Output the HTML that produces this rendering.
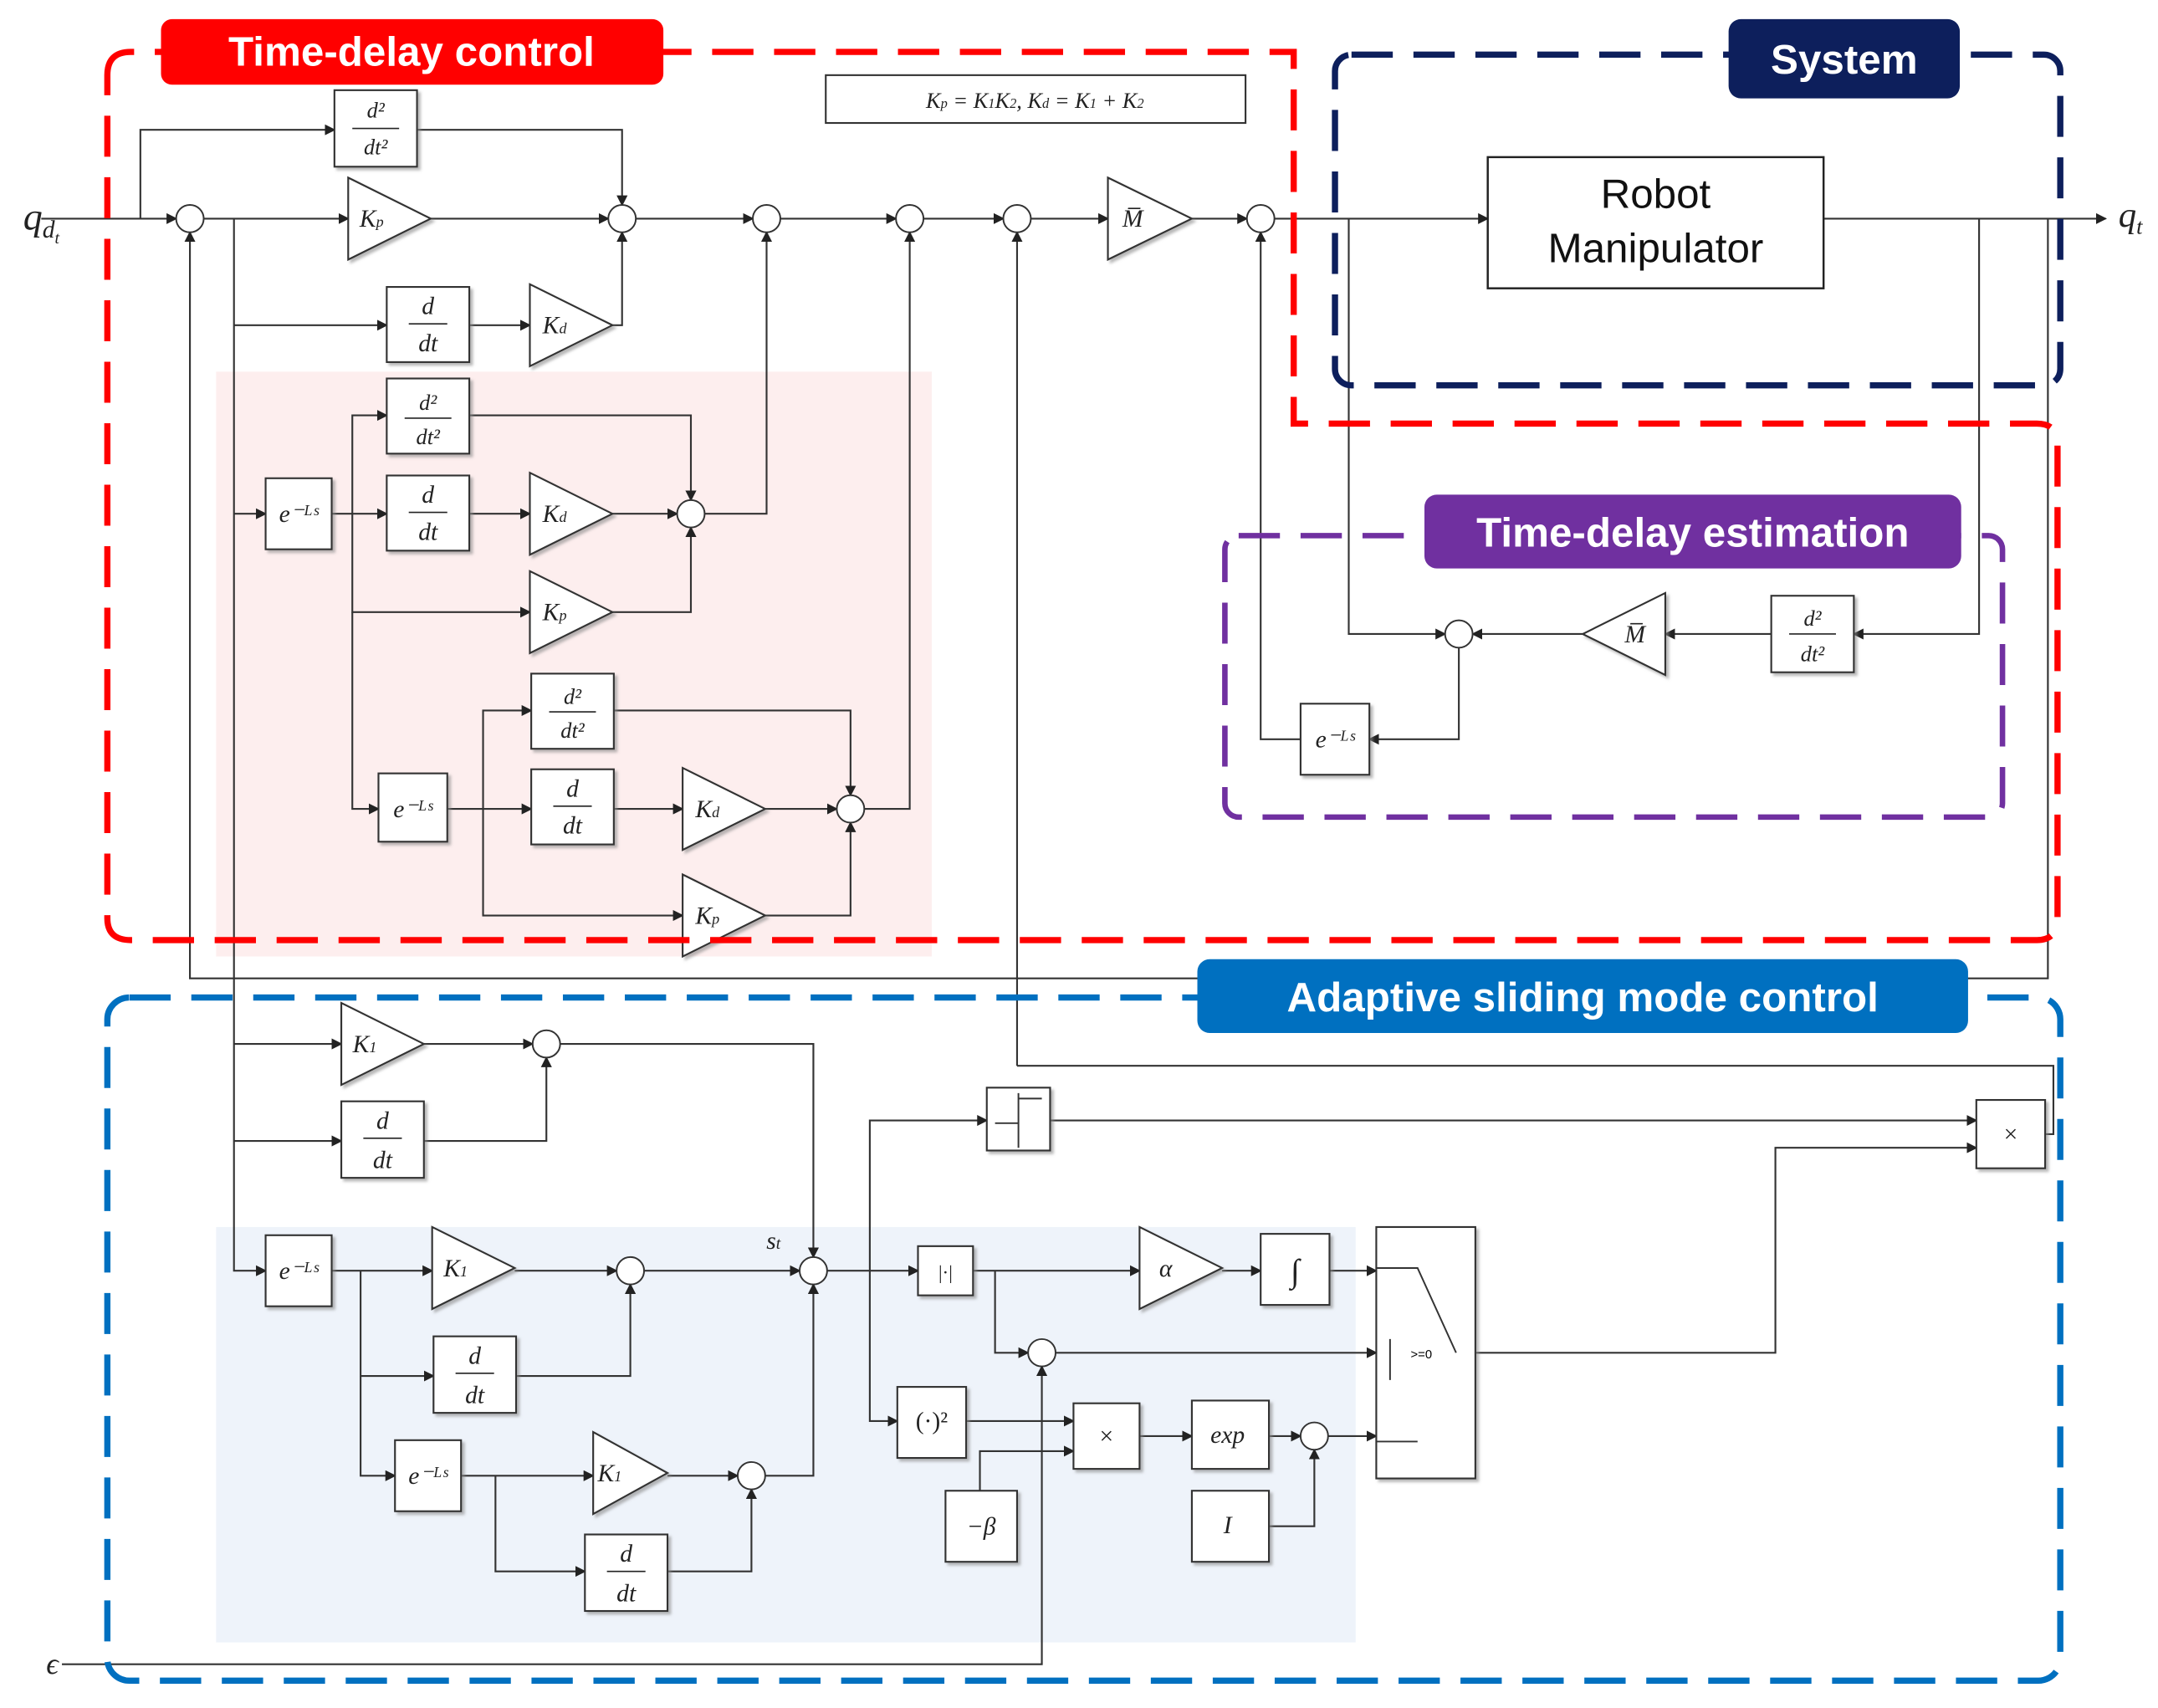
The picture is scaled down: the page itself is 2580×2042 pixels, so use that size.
<!DOCTYPE html>
<html><head><meta charset="utf-8"><style>
html,body{margin:0;padding:0;background:#fff;}
svg{display:block;}
text{font-family:"Liberation Serif",serif;}
.lb{font-family:"Liberation Sans","DejaVu Sans",sans-serif;font-weight:bold;fill:#fff;font-size:30px;text-anchor:middle;}
.m{font-style:italic;font-size:18px;text-anchor:middle;fill:#222;}
.b{fill:#fff;stroke:#333;stroke-width:1.3;filter:url(#sh);}
.w{fill:none;stroke:#333;stroke-width:1.3;}
.s{fill:#fff;stroke:#333;stroke-width:1.2;}
.sans{font-family:"Liberation Sans","DejaVu Sans",sans-serif;}
</style></head><body>
<svg width="2580" height="2042" viewBox="0 0 1568 1250" preserveAspectRatio="none" xmlns="http://www.w3.org/2000/svg">
<defs>
<filter id="sh" x="-10%" y="-10%" width="130%" height="130%"><feDropShadow dx="2" dy="2" stdDeviation="1" flood-color="#888" flood-opacity="0.6"/></filter>
<marker id="a" markerWidth="8" markerHeight="8" refX="7" refY="4" orient="auto" markerUnits="userSpaceOnUse"><path d="M0,0 L8,4 L0,8z" fill="#222"/></marker>
</defs>
<rect x="157" y="272" width="520" height="428" fill="#fdeeee"/>
<rect x="157" y="898" width="828" height="304" fill="#eef3fa"/>

<g class="w" marker-end="url(#a)">
<path d="M30,160 H128"/>
<path d="M102,160 V95 H243"/>
<path d="M303,95 H452 V150"/>
<path d="M148,160 H253"/>
<path d="M313,160 H442"/>
<path d="M462,160 H547"/>
<path d="M567,160 H651"/>
<path d="M671,160 H729"/>
<path d="M749,160 H805"/>
<path d="M866,160 H906"/>
<path d="M926,160 H1081"/>
<path d="M1325,160 H1530"/>
<path d="M170,238 H281"/>
<path d="M341,238 H385"/>
<path d="M445,238 H452 V170"/>
<path d="M170,376 H193"/>
<path d="M241,376 H281"/>
<path d="M341,376 H385"/>
<path d="M256,376 V304 H281"/>
<path d="M341,304 H502 V366"/>
<path d="M445,376 H492"/>
<path d="M256,376 V448 H385"/>
<path d="M445,448 H502 V386"/>
<path d="M512,376 H557 V170"/>
<path d="M256,448 V592 H275"/>
<path d="M325,592 H386"/>
<path d="M351,592 V520 H386"/>
<path d="M446,520 H618 V582"/>
<path d="M446,592 H496"/>
<path d="M556,592 H608"/>
<path d="M351,592 V670 H496"/>
<path d="M556,670 H618 V602"/>
<path d="M628,592 H661 V170"/>
<path d="M1438,160 V464 H1347"/>
<path d="M1287,464 H1210"/>
<path d="M1150,464 H1070"/>
<path d="M980,160 V464 H1050"/>
<path d="M1060,474 V541 H995"/>
<path d="M945,541 H916 V170"/>
<path d="M1488,160 V716 H138 V170"/>
<path d="M170,160 V930 H193"/>
<path d="M170,764 H248"/>
<path d="M308,764 H387"/>
<path d="M170,835 H248"/>
<path d="M308,835 H397 V774"/>
<path d="M407,764 H591 V920"/>
<path d="M241,930 H314"/>
<path d="M374,930 H448"/>
<path d="M262,930 V1007 H315"/>
<path d="M375,1007 H458 V940"/>
<path d="M468,930 H581"/>
<path d="M262,1007 V1080 H287"/>
<path d="M335,1080 H431"/>
<path d="M485,1080 H536"/>
<path d="M360,1080 V1150 H425"/>
<path d="M485,1150 H546 V1090"/>
<path d="M556,1080 H591 V940"/>
<path d="M601,930 H667"/>
<path d="M632,930 V820 H717"/>
<path d="M763,820 H1436"/>
<path d="M707,930 H828"/>
<path d="M888,930 H916"/>
<path d="M966,930 H1000"/>
<path d="M723,930 V990 H747"/>
<path d="M767,990 H1000"/>
<path d="M632,930 V1040 H652"/>
<path d="M702,1040 H780"/>
<path d="M712,1091 V1062 H780"/>
<path d="M828,1051 H866"/>
<path d="M922,1051 H945"/>
<path d="M965,1051 H1000"/>
<path d="M922,1117 H955 V1061"/>
<path d="M1060,990 H1290 V840 H1436"/>
<path d="M739,780 V170"/>
<path d="M45,1218 H757 V1000"/>
</g>
<path class="w" d="M1486,830 H1492 V780 H739"/>

<g>
<rect class="b" x="243" y="66" width="60" height="56"/>
<rect class="b" x="281" y="210" width="60" height="55"/>
<rect class="b" x="281" y="277" width="60" height="55"/>
<rect class="b" x="281" y="348" width="60" height="55"/>
<rect class="b" x="193" y="350" width="48" height="52"/>
<rect class="b" x="275" y="566" width="50" height="50"/>
<rect class="b" x="386" y="493" width="60" height="55"/>
<rect class="b" x="386" y="563" width="60" height="55"/>
<rect class="b" x="1287" y="436" width="60" height="56"/>
<rect class="b" x="945" y="515" width="50" height="52"/>
<rect class="b" x="248" y="806" width="60" height="56"/>
<rect class="b" x="193" y="904" width="48" height="52"/>
<rect class="b" x="315" y="978" width="60" height="56"/>
<rect class="b" x="287" y="1054" width="48" height="52"/>
<rect class="b" x="425" y="1123" width="60" height="56"/>
<rect class="b" x="667" y="912" width="40" height="36"/>
<rect class="b" x="717" y="796" width="46" height="46"/>
<rect class="b" x="916" y="903" width="50" height="52"/>
<rect class="b" x="652" y="1015" width="50" height="52"/>
<rect class="b" x="780" y="1027" width="48" height="48"/>
<rect class="b" x="687" y="1091" width="52" height="52"/>
<rect class="b" x="866" y="1025" width="56" height="50"/>
<rect class="b" x="866" y="1091" width="56" height="52"/>
<rect class="b" x="1000" y="898" width="72" height="184"/>
<rect class="b" x="1436" y="805" width="50" height="50"/>
<rect x="1081" y="115" width="244" height="96" fill="#fff" stroke="#222" stroke-width="1.5"/>
<rect x="600" y="55" width="305" height="35" fill="#fff" stroke="#333" stroke-width="1.3"/>
<polygon class="b" points="253,130 313,160 253,190"/>
<polygon class="b" points="805,130 866,160 805,190"/>
<polygon class="b" points="385,208 445,238 385,268"/>
<polygon class="b" points="385,346 445,376 385,406"/>
<polygon class="b" points="385,418 445,448 385,478"/>
<polygon class="b" points="496,562 556,592 496,622"/>
<polygon class="b" points="496,640 556,670 496,700"/>
<polygon class="b" points="1210,434 1150,464 1210,494"/>
<polygon class="b" points="248,734 308,764 248,794"/>
<polygon class="b" points="314,898 374,928 314,958"/>
<polygon class="b" points="431,1048 485,1078 431,1108"/>
<polygon class="b" points="828,898 888,928 828,958"/>
<circle class="s" cx="138" cy="160" r="10"/><circle class="s" cx="452" cy="160" r="10"/>
<circle class="s" cx="557" cy="160" r="10"/><circle class="s" cx="661" cy="160" r="10"/>
<circle class="s" cx="739" cy="160" r="10"/><circle class="s" cx="916" cy="160" r="10"/>
<circle class="s" cx="502" cy="376" r="10"/><circle class="s" cx="618" cy="592" r="10"/>
<circle class="s" cx="1060" cy="464" r="10"/><circle class="s" cx="397" cy="764" r="10"/>
<circle class="s" cx="458" cy="930" r="10"/><circle class="s" cx="546" cy="1080" r="10"/>
<circle class="s" cx="591" cy="930" r="10"/><circle class="s" cx="757" cy="990" r="10"/>
<circle class="s" cx="955" cy="1051" r="10"/>
</g>

<g class="m">
<g font-size="16">
<text x="273" y="86">d²</text><line x1="256" y1="94" x2="290" y2="94" stroke="#222"/><text x="273" y="113">dt²</text>
<text x="311" y="300">d²</text><line x1="294" y1="306" x2="328" y2="306" stroke="#222"/><text x="311" y="325">dt²</text>
<text x="416" y="515">d²</text><line x1="399" y1="521" x2="433" y2="521" stroke="#222"/><text x="416" y="540">dt²</text>
<text x="1317" y="458">d²</text><line x1="1300" y1="464" x2="1334" y2="464" stroke="#222"/><text x="1317" y="484">dt²</text>
</g>
<text x="311" y="230">d</text><line x1="297" y1="237" x2="325" y2="237" stroke="#222"/><text x="311" y="257">dt</text>
<text x="311" y="368">d</text><line x1="297" y1="375" x2="325" y2="375" stroke="#222"/><text x="311" y="395">dt</text>
<text x="416" y="583">d</text><line x1="402" y1="590" x2="430" y2="590" stroke="#222"/><text x="416" y="610">dt</text>
<text x="278" y="826">d</text><line x1="264" y1="833" x2="292" y2="833" stroke="#222"/><text x="278" y="855">dt</text>
<text x="345" y="998">d</text><line x1="331" y1="1005" x2="359" y2="1005" stroke="#222"/><text x="345" y="1027">dt</text>
<text x="455" y="1143">d</text><line x1="441" y1="1150" x2="469" y2="1150" stroke="#222"/><text x="455" y="1172">dt</text>
<text x="217" y="382">e⁻ᴸˢ</text><text x="300" y="598">e⁻ᴸˢ</text><text x="970" y="547">e⁻ᴸˢ</text>
<text x="217" y="936">e⁻ᴸˢ</text><text x="311" y="1086">e⁻ᴸˢ</text>
<text x="270" y="166">K<tspan font-size="11">p</tspan></text>
<text x="823" y="166">M̅</text><text x="1188" y="470">M̅</text>
<text x="403" y="244">K<tspan font-size="11">d</tspan></text>
<text x="403" y="382">K<tspan font-size="11">d</tspan></text>
<text x="403" y="454">K<tspan font-size="11">p</tspan></text>
<text x="514" y="598">K<tspan font-size="11">d</tspan></text>
<text x="514" y="676">K<tspan font-size="11">p</tspan></text>
<text x="265" y="770">K<tspan font-size="11">1</tspan></text>
<text x="331" y="934">K<tspan font-size="11">1</tspan></text>
<text x="443" y="1084">K<tspan font-size="11">1</tspan></text>
<text x="847" y="934">α</text>
<text x="941" y="938" font-size="24">∫</text>
<text x="687" y="936" font-style="normal" font-size="14">|·|</text>
<text x="677" y="1046" font-style="normal">(·)²</text>
<text x="804" y="1057" font-style="normal">×</text>
<text x="1461" y="836" font-style="normal">×</text>
<text x="713" y="1123">−β</text>
<text x="892" y="1056">exp</text>
<text x="892" y="1122">I</text>
<text x="562" y="914">s<tspan font-size="12">t</tspan></text>
<text x="752" y="79" font-size="16">K<tspan font-size="10">p</tspan> = K<tspan font-size="10">1</tspan>K<tspan font-size="10">2</tspan>, K<tspan font-size="10">d</tspan> = K<tspan font-size="10">1</tspan> + K<tspan font-size="10">2</tspan></text>
<text x="30" y="168" font-size="28">q<tspan font-size="18" dy="6">d</tspan><tspan font-size="12" dy="4">t</tspan></text>
<text x="1548" y="166" font-size="26">q<tspan font-size="16" dy="5">t</tspan></text>
<text x="38" y="1225" font-size="22">ϵ</text>
</g>
<path d="M723,822 H740 V804 H757 M740,800 V840" fill="none" stroke="#333" stroke-width="1.2"/>
<path d="M1000,928 H1030 L1058,990 M1030,1055 H1000 M1010,980 V1010" fill="none" stroke="#333" stroke-width="1.2"/>
<text x="1025" y="994" font-size="9" class="sans">&gt;=0</text>
<text x="1203" y="152" font-size="30" text-anchor="middle" class="sans" fill="#111">Robot</text>
<text x="1203" y="192" font-size="30" text-anchor="middle" class="sans" fill="#111">Manipulator</text>

<path d="M78,55 Q78,38 95,38 H940 V310 H1480 Q1495,310 1495,325 V672 Q1495,688 1480,688 H95 Q78,688 78,672 Z" fill="none" stroke="#f00" stroke-width="4.5" stroke-dasharray="30,15"/>
<rect x="970" y="40" width="527" height="242" rx="12" fill="none" stroke="#0d1f5c" stroke-width="4.5" stroke-dasharray="30,15"/>
<rect x="890" y="392" width="565" height="206" rx="10" fill="none" stroke="#7030a0" stroke-width="4" stroke-dasharray="30,15"/>
<rect x="78" y="730" width="1419" height="500" rx="16" fill="none" stroke="#0070c0" stroke-width="4.5" stroke-dasharray="30,15"/>

<rect x="117" y="14" width="365" height="48" rx="8" fill="#f00"/>
<text class="lb" x="299" y="48">Time-delay control</text>
<rect x="1256" y="14" width="168" height="58" rx="9" fill="#0d1f5c"/>
<text class="lb" x="1340" y="54">System</text>
<rect x="1035" y="362" width="390" height="54" rx="9" fill="#7030a0"/>
<text class="lb" x="1230" y="400">Time-delay estimation</text>
<rect x="870" y="702" width="560" height="54" rx="9" fill="#0070c0"/>
<text class="lb" x="1150" y="740">Adaptive sliding mode control</text>
</svg>
</body></html>
